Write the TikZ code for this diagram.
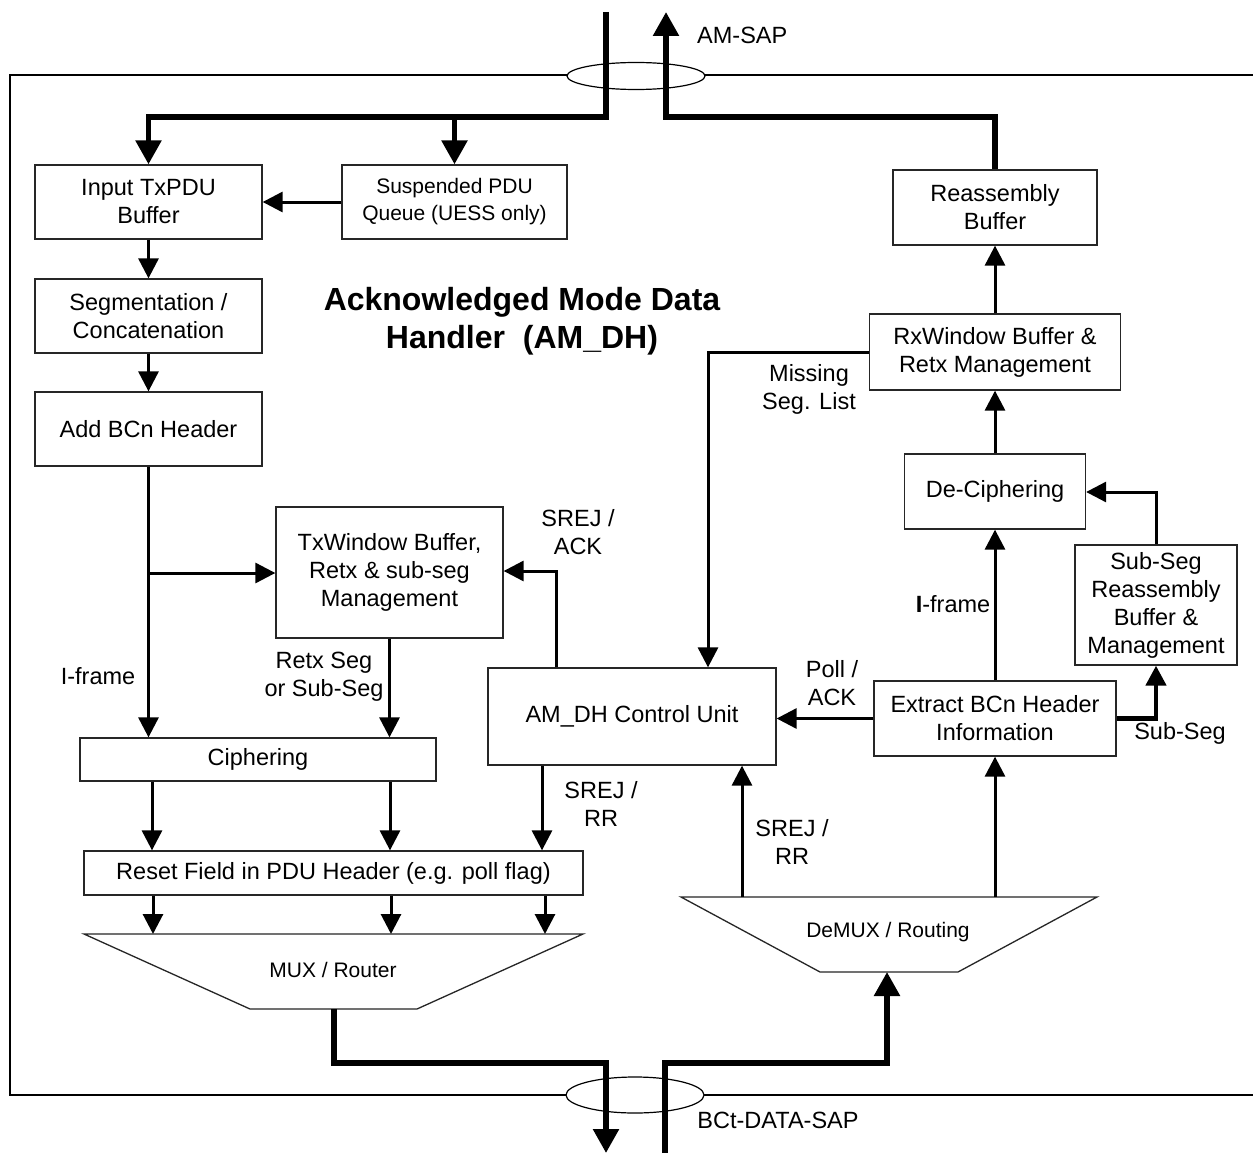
\documentclass[tikz,border=0pt]{standalone}
\usepackage{fontspec}
\setmainfont{Liberation Sans}
\usetikzlibrary{arrows.meta}
\begin{document}
\begin{tikzpicture}[x=1pt,y=-1pt,
  box/.style={draw=black!85,line width=1.3pt,fill=white,inner sep=0pt,align=center,font=\fontsize{23.5}{28}\selectfont},
  sbox/.style={box,font=\fontsize{21}{27}\selectfont},
  conn/.style={line width=3pt,-{Triangle[width=20pt,length=20pt]}},
  fat/.style={line width=5.5pt,-{Triangle[width=25pt,length=24pt]}},
  fatline/.style={line width=5.5pt},
  lbl/.style={align=center,font=\fontsize{23.5}{28}\selectfont,inner sep=0pt},
  slbl/.style={lbl,font=\fontsize{21}{27}\selectfont},
  title/.style={align=center,font=\bfseries\fontsize{32}{38}\selectfont,inner sep=0pt},
  sap/.style={draw=black,line width=1.2pt,fill=white},
  trap/.style={draw=black!85,line width=1.3pt,fill=white}
]
\useasboundingbox (0,0) rectangle (1253,1153);
\fill[white] (0,0) rectangle (1253,1153);

% outer frame
\draw[line width=2pt] (1270,75) -- (10,75) -- (10,1095) -- (1270,1095);
\draw[sap] (636,76) ellipse [x radius=69, y radius=13.5];
\draw[sap] (635,1095) ellipse [x radius=69, y radius=18];

% boxes
\node[box,minimum width=227,minimum height=74] (inbuf) at (148.5,202) {Input TxPDU\\Buffer};
\node[sbox,minimum width=225,minimum height=74] (susp) at (454.5,202) {Suspended PDU\\Queue (UESS only)};
\node[box,minimum width=227,minimum height=74] (seg) at (148.5,316) {Segmentation /\\Concatenation};
\node[box,minimum width=227,minimum height=74] (addh) at (148.5,429) {Add BCn Header};
\node[box,minimum width=227,minimum height=131] (txw) at (389.5,572.5) {TxWindow Buffer,\\Retx \& sub-seg\\Management};
\node[box,minimum width=356,minimum height=43] (ciph) at (258,759.5) {Ciphering};
\node[box,minimum width=499,minimum height=44] (reset) at (333.5,873) {Reset Field in PDU Header (e.g. poll flag)};
\node[box,minimum width=288,minimum height=97] (ctrl) at (632,716.5) {AM\_DH Control Unit};
\node[box,minimum width=242,minimum height=75] (ext) at (995,718.5) {Extract BCn Header\\Information};
\node[box,minimum width=162,minimum height=120] (subseg) at (1156,605) {Sub-Seg\\Reassembly\\Buffer \&\\Management};
\node[box,minimum width=181,minimum height=75] (deciph) at (995,491.5) {De-Ciphering};
\node[box,minimum width=251,minimum height=76] (rxw) at (995,352) {RxWindow Buffer \&\\Retx Management};
\node[box,minimum width=204,minimum height=75] (reasm) at (995,207.5) {Reassembly\\Buffer};

% MUX trapezoid
\coordinate (muxtl) at (84,934);
\coordinate (muxtr) at (583,934);
\coordinate (muxbr) at (417,1009);
\coordinate (muxbl) at (250,1009);
\coordinate (muxout) at (334,1009);
\draw[trap] (muxtl) -- (muxtr) -- (muxbr) -- (muxbl) -- cycle;
\node[slbl] (mux) at (333,970) {MUX / Router};

% DeMUX trapezoid
\coordinate (dmtl) at (681,897);
\coordinate (dmtr) at (1097,897);
\coordinate (dmbr) at (958,972);
\coordinate (dmbl) at (820,972);
\coordinate (dmin) at (887,972);
\draw[trap] (dmtl) -- (dmtr) -- (dmbr) -- (dmbl) -- cycle;
\node[slbl] (demux) at (888,932) {DeMUX / Routing};

% SAP thick lines
\coordinate (inA) at (606,12);
\coordinate (inJ) at (606,117);
\coordinate (spJ) at (454.5,117);
\coordinate (outA) at (666,12);
\coordinate (outJ) at (666,117);
\draw[fatline] (inA) -- (inJ) -- (spJ);
\draw[fat] (spJ) -| (inbuf.north);
\draw[fat] (spJ) -- (susp.north);
\draw[fat] (reasm.north) |- (outJ) -- (outA);

\coordinate (bdJ) at (606,1063);
\coordinate (bdA) at (606,1153);
\coordinate (buA) at (665,1153);
\coordinate (buJ) at (665,1063);
\draw[fat] (muxout) |- (bdJ) -- (bdA);
\draw[fat] (buA) -- (buJ) -| (dmin);

% left chain
\draw[conn] (susp.west) -- (inbuf.east);
\draw[conn] (inbuf.south) -- (seg.north);
\draw[conn] (seg.south) -- (addh.north);
\coordinate (brJ) at (148.5,573);
\draw[conn] (addh.south) -- (addh.south |- ciph.north);
\draw[conn] (brJ) -- (brJ -| txw.west);
\draw[conn] (txw.south) -- (txw.south |- ciph.north);

\coordinate (xa) at (152,0);
\coordinate (xb) at (390,0);
\coordinate (xc) at (542,0);
\draw[conn] (ciph.south -| xa) -- (reset.north -| xa);
\draw[conn] (ciph.south -| xb) -- (reset.north -| xb);
\draw[conn] (ctrl.south -| xc) -- (reset.north -| xc);

\coordinate (ma) at (153,0);
\coordinate (mb) at (391,0);
\coordinate (mc) at (545,0);
\draw[conn] (reset.south -| ma) -- (muxtl -| ma);
\draw[conn] (reset.south -| mb) -- (muxtl -| mb);
\draw[conn] (reset.south -| mc) -- (muxtl -| mc);

% control connections
\coordinate (ckJ) at (556,571);
\draw[conn] (ctrl.north -| ckJ) -- (ckJ) -- (ckJ -| txw.east);
\coordinate (msJ) at (708,352);
\draw[conn] (rxw.west |- msJ) -- (msJ) -- (msJ |- ctrl.north);
\coordinate (xd) at (742,0);
\draw[conn] (dmtl -| xd) -- (ctrl.south -| xd);
\draw[conn] (dmtl -| ext.south) -- (ext.south);
\draw[conn] (ext.west) -- (ext.west -| ctrl.east);

% right chain
\draw[conn] (ext.north) -- (deciph.south);
\draw[conn] (deciph.north) -- (rxw.south);
\draw[conn] (rxw.north) -- (reasm.south);
\coordinate (ssJ) at (1156,718.5);
\draw[line width=4.5pt,-{Triangle[width=20pt,length=20pt]}] (ext.east) -- (ssJ) -- (subseg.south);
\coordinate (sdJ) at (1156,492);
\draw[conn] (subseg.north) -- (sdJ) -- (deciph.east |- sdJ);

% labels
\node[lbl,anchor=west] (amsap) at (697,35) {AM-SAP};
\node[lbl] (bctsap) at (778,1120) {BCt-DATA-SAP};
\node[title] (ttl) at (522,321) {Acknowledged Mode Data\\Handler\ \ (AM\_DH)};
\node[lbl] (lmiss) at (809,389) {Missing\\Seg. List};
\node[lbl] (lsack) at (578,532) {SREJ /\\ACK};
\node[lbl] (lretx) at (324,677) {Retx Seg\\or Sub-Seg};
\node[lbl] (lif1) at (98,676) {I-frame};
\node[lbl] (lif2) at (953,604) {\textbf{I}-frame};
\node[lbl] (lpoll) at (832,683) {Poll /\\ACK};
\node[lbl] (lsub) at (1180,733) {Sub-Seg};
\node[lbl] (lsrr1) at (601,804) {SREJ /\\RR};
\node[lbl] (lsrr2) at (792,842) {SREJ /\\RR};
\end{tikzpicture}
\end{document}
